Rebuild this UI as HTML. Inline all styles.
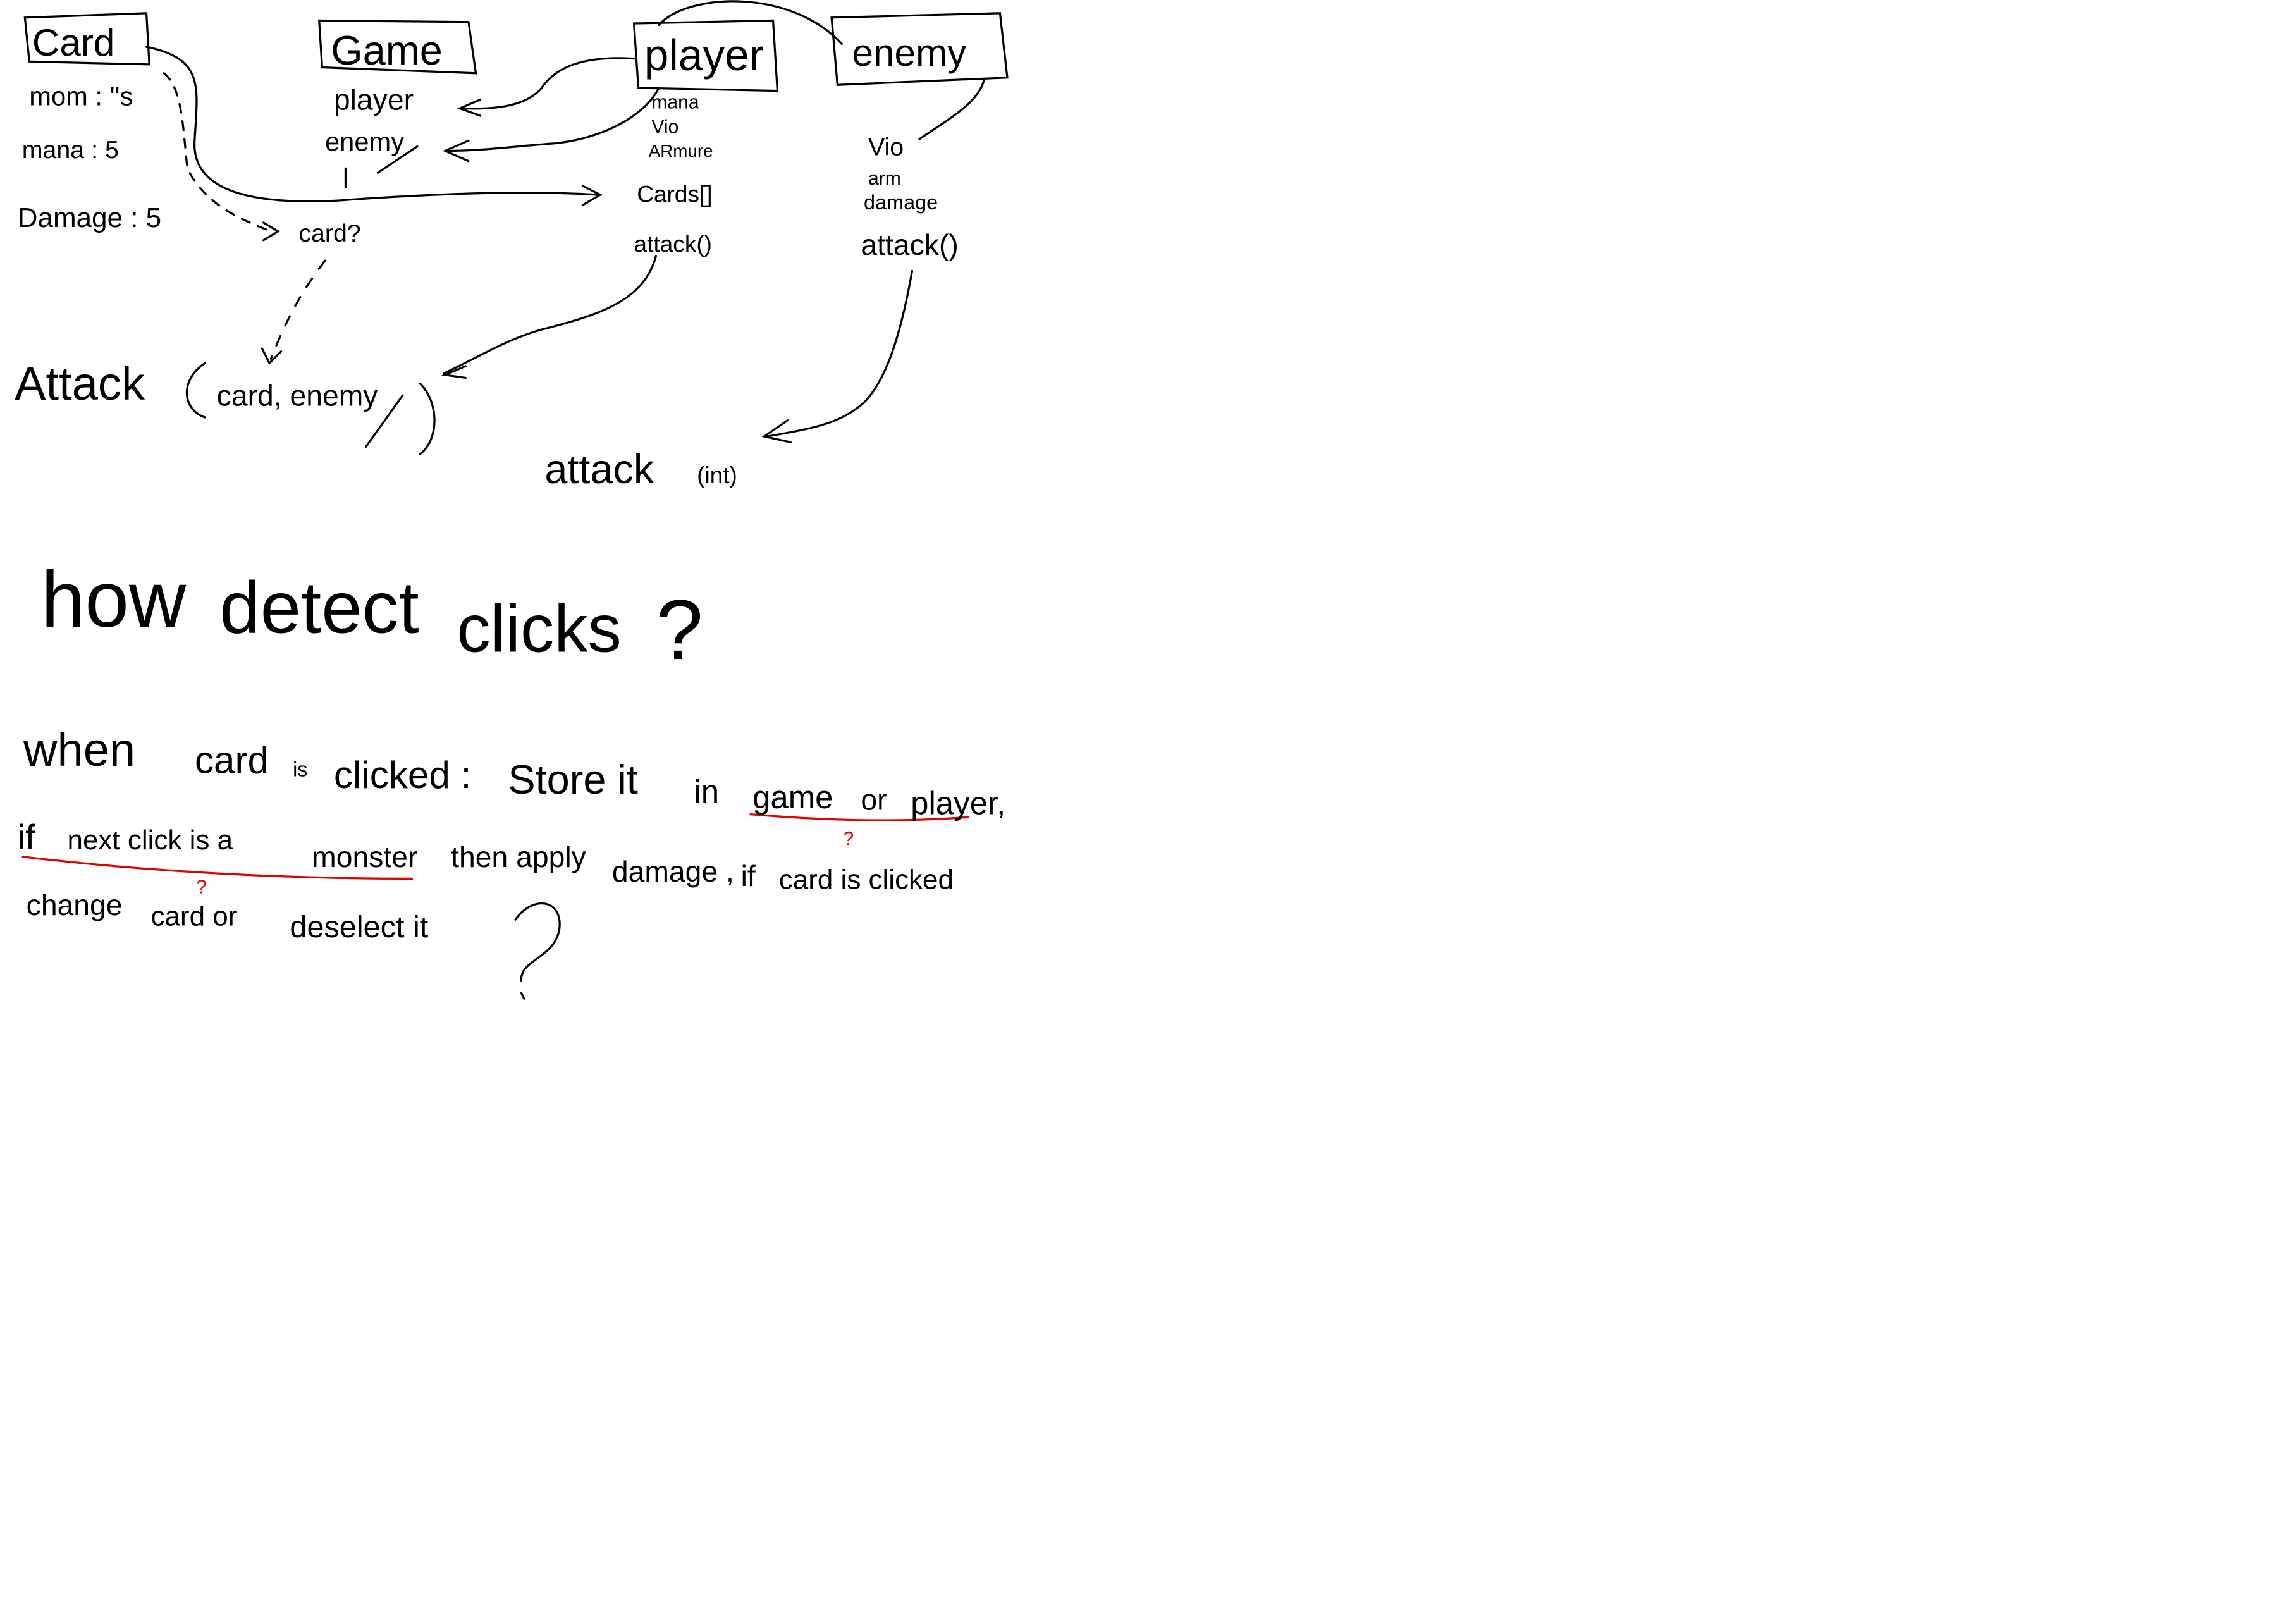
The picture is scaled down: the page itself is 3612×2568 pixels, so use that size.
<!DOCTYPE html>
<html><head><meta charset="utf-8">
<style>
html,body{margin:0;padding:0;background:#fff;width:3612px;height:2568px;overflow:hidden}
svg{display:block}
text{font-family:"Liberation Sans",sans-serif;fill:#000}
</style></head><body>
<svg width="3612" height="2568" viewBox="0 0 1560 1109" preserveAspectRatio="none" xmlns="http://www.w3.org/2000/svg">
<g fill="none" stroke="#000" stroke-width="1.4" stroke-linecap="round">
<!-- boxes -->
<path d="M17 12 L100 9 L102 44 L20 42 Z"/>
<path d="M218 14 L320 15 L325 50 L220 46 Z"/>
<path d="M433 16 L528 14 L531 62 L436 60 Z"/>
<path d="M568 12 L683 9 L688 53 L572 58 Z"/>
<!-- arc player to enemy top -->
<path d="M450 17 C470 -5 540 -8 575 30"/>
<!-- card to cards[] -->
<path d="M100 32 C140 40 135 60 133 95 C130 130 170 140 230 137 C300 132 360 130 408 133"/>
<path d="M398 127 L410 133 L398 140"/>
<path d="M236 115 L236 128"/>
<!-- player box to player / enemy in Game -->
<path d="M433 40 C400 38 380 45 370 60 C360 72 340 75 315 74"/>
<path d="M328 68 L314 74 L328 79"/>
<path d="M450 60 C440 80 410 95 378 98 C350 100 330 103 305 103"/>
<path d="M320 96 L304 103 L320 110"/>
<path d="M258 118 L285 100"/>
<!-- enemy to Vio -->
<path d="M672 55 C668 70 650 80 628 95"/>
<!-- dashed card -> card? -->
<path d="M112 50 C125 60 125 90 128 115 C140 140 165 150 185 158" stroke-dasharray="6 6"/>
<path d="M180 152 L190 158 L180 164"/>
<path d="M222 178 C205 200 195 220 185 245" stroke-dasharray="7 8"/>
<path d="M179 238 L184 248 L192 240"/>
<!-- attack() to Attack -->
<path d="M448 175 C440 205 410 215 370 225 C345 232 325 245 303 255"/>
<path d="M318 250 L304 256 L318 258"/>
<!-- enemy attack to attack(int) -->
<path d="M623 185 C615 230 605 260 590 275 C575 288 560 292 524 298"/>
<path d="M538 287 L522 298 L540 302"/>
<!-- Attack big parens -->
<path d="M140 248 C122 260 125 280 140 285"/>
<path d="M287 262 C300 275 300 300 287 310"/>
<path d="M250 305 L275 270"/>
<!-- big question mark -->
<path d="M352 628 C365 610 385 615 382 635 C378 655 355 655 356 670"/>
<path d="M356 678 L358 682"/>
</g>
<!-- red underlines -->
<g fill="none" stroke="#e00000" stroke-width="1.4">
<path d="M512 556 C560 560 610 562 662 558"/>
<path d="M15 585 C100 595 190 600 282 600"/>
</g>
<g fill="#e00000"><text x="576" y="577" font-size="13" style="fill:#e00000">?</text>
<text x="134" y="610" font-size="13" style="fill:#e00000">?</text></g>
<!-- labels -->
<text x="22" y="38" font-size="26">Card</text>
<text x="226" y="44" font-size="28">Game</text>
<text x="440" y="48" font-size="30">player</text>
<text x="582" y="45" font-size="26">enemy</text>
<text x="20" y="72" font-size="18">mom : ''s</text>
<text x="15" y="108" font-size="17">mana : 5</text>
<text x="12" y="155" font-size="19">Damage : 5</text>
<text x="228" y="75" font-size="20">player</text>
<text x="222" y="103" font-size="18">enemy</text>
<text x="445" y="74" font-size="13">mana</text>
<text x="445" y="91" font-size="13">Vio</text>
<text x="443" y="107" font-size="12">ARmure</text>
<text x="435" y="138" font-size="16">Cards[]</text>
<text x="433" y="172" font-size="16">attack()</text>
<text x="593" y="106" font-size="17">Vio</text>
<text x="593" y="126" font-size="13">arm</text>
<text x="590" y="143" font-size="14">damage</text>
<text x="588" y="174" font-size="20">attack()</text>
<text x="204" y="165" font-size="17">card?</text>
<text x="10" y="273" font-size="32">Attack</text>
<text x="148" y="277" font-size="20">card, enemy</text>
<text x="372" y="330" font-size="28">attack</text>
<text x="476" y="330" font-size="16">(int)</text>
<text x="28" y="428" font-size="54">how</text>
<text x="150" y="432" font-size="50">detect</text>
<text x="312" y="445" font-size="46">clicks</text>
<text x="448" y="450" font-size="58">?</text>
<text x="16" y="523" font-size="32">when</text>
<text x="133" y="528" font-size="26">card</text>
<text x="200" y="530" font-size="14">is</text>
<text x="228" y="538" font-size="26">clicked :</text>
<text x="347" y="542" font-size="28">Store it</text>
<text x="474" y="548" font-size="22">in</text>
<text x="514" y="552" font-size="22">game</text>
<text x="588" y="553" font-size="20">or</text>
<text x="622" y="556" font-size="22">player,</text>
<text x="12" y="580" font-size="24">if</text>
<text x="46" y="580" font-size="19">next click is a</text>
<text x="213" y="592" font-size="20">monster</text>
<text x="308" y="592" font-size="20">then apply</text>
<text x="418" y="602" font-size="20">damage ,</text>
<text x="506" y="605" font-size="20">if</text>
<text x="532" y="607" font-size="19">card is clicked</text>
<text x="18" y="625" font-size="20">change</text>
<text x="103" y="632" font-size="19">card or</text>
<text x="198" y="640" font-size="21">deselect it</text>
</svg>
</body></html>
